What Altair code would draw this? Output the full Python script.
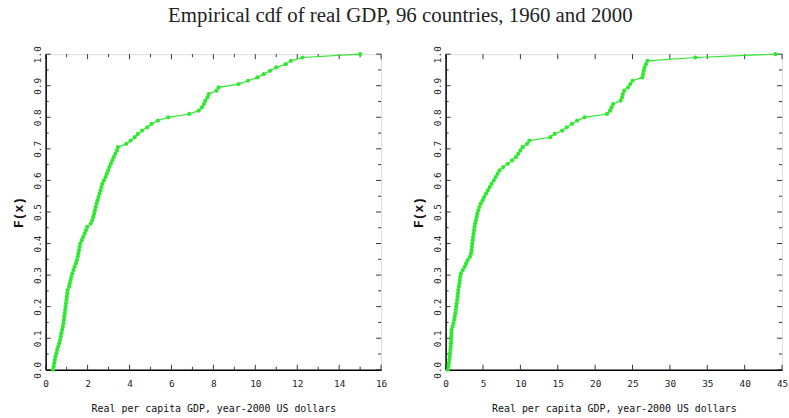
import altair as alt
import pandas as pd

# Real per capita GDP (thousands of year-2000 US dollars), 96 countries, sorted
gdp_1960 = [
    0.35, 0.38, 0.41, 0.44, 0.47, 0.51, 0.55, 0.60, 0.65, 0.69,
    0.72, 0.75, 0.79, 0.82, 0.85, 0.87, 0.89, 0.91, 0.93, 0.95,
    0.97, 0.99, 1.01, 1.03, 1.05, 1.12, 1.15, 1.19, 1.23, 1.27,
    1.33, 1.38, 1.44, 1.49, 1.53, 1.56, 1.59, 1.62, 1.65, 1.72,
    1.79, 1.86, 1.92, 1.98, 2.15, 2.22, 2.27, 2.31, 2.35, 2.39,
    2.43, 2.47, 2.52, 2.57, 2.62, 2.66, 2.70, 2.78, 2.86, 2.92,
    2.98, 3.04, 3.11, 3.18, 3.25, 3.32, 3.40, 3.45, 3.85, 4.05,
    4.25, 4.40, 4.60, 4.85, 5.05, 5.35, 5.85, 6.85, 7.30, 7.45,
    7.55, 7.62, 7.72, 7.78, 8.15, 8.25, 9.20, 9.65, 10.10, 10.40,
    10.70, 11.00, 11.45, 11.70, 12.25, 15.00,
]

gdp_2000 = [
    0.31, 0.38, 0.44, 0.50, 0.55, 0.59, 0.64, 0.68, 0.71, 0.74,
    0.76, 0.78, 0.80, 0.92, 1.05, 1.14, 1.22, 1.30, 1.36, 1.42,
    1.48, 1.54, 1.60, 1.65, 1.70, 1.77, 1.84, 1.90, 1.96, 2.05,
    2.30, 2.55, 2.75, 2.95, 3.25, 3.40, 3.48, 3.52, 3.56, 3.62,
    3.68, 3.74, 3.80, 3.86, 3.95, 4.05, 4.15, 4.25, 4.38, 4.52,
    4.70, 4.95, 5.15, 5.40, 5.65, 5.90, 6.15, 6.45, 6.70, 6.95,
    7.20, 7.70, 8.30, 8.90, 9.40, 9.70, 10.00, 10.30, 10.90, 11.20,
    14.00, 14.60, 15.60, 16.20, 16.90, 17.60, 18.60, 21.60, 22.00, 22.20,
    22.40, 23.40, 23.60, 23.70, 23.90, 24.40, 24.70, 25.00, 26.30, 26.40,
    26.50, 26.60, 26.80, 27.00, 33.40, 44.10,
]

# Axis layout
x_labels_1960 = [0, 2, 4, 6, 8, 10, 12, 14, 16]
x_minor_1960 = [1, 3, 5, 7, 9, 11, 13, 15]
x_labels_2000 = [0, 5, 10, 15, 20, 25, 30, 35, 40, 45]
x_minor_2000 = []
y_labels = [0.0, 0.1, 0.2, 0.3, 0.4, 0.5, 0.6, 0.7, 0.8, 0.9, 1.0]
y_minor = [0.05, 0.15, 0.25, 0.35, 0.45, 0.55, 0.65, 0.75, 0.85, 0.95]

TITLE = "Empirical cdf of real GDP, 96 countries, 1960 and 2000"
X_TITLE = "Real per capita GDP, year-2000 US dollars"
GREEN = "#2fe82f"
MONO = "DejaVu Sans Mono"
H = 318
MAJOR = 5
MINOR = 3


def panel(values, xmax, x_labels, x_minor, width):
    n = len(values)
    df = pd.DataFrame({"gdp": values})
    xs = alt.Scale(domain=[0, xmax], nice=False, zero=False)
    ys = alt.Scale(domain=[0, 1], nice=False)

    x_axis = alt.Axis(
        values=x_labels, ticks=False, grid=False, title=X_TITLE,
        labelFont=MONO, labelFontSize=9.5, labelColor="#222",
        labelPadding=9, titleFont=MONO, titleFontSize=10,
        titleFontWeight="normal", titleColor="#111", titlePadding=16,
        domainColor="black", domainWidth=1.5, labelFlush=False,
    )
    y_axis = alt.Axis(
        values=y_labels, format=".1f", ticks=False, grid=False,
        title="F(x)", labelFont=MONO, labelFontSize=9.5, labelColor="#222",
        labelAngle=270, labelAlign="center", labelBaseline="bottom",
        labelPadding=3, titleFont="Liberation Mono", titleFontSize=13,
        titleFontWeight="bold", titleColor="#111", titlePadding=7,
        domainColor="black", domainWidth=1.5, labelFlush=False,
    )

    def X(field):
        return alt.X(f"{field}:Q", scale=xs, axis=x_axis)

    def Y(field):
        return alt.Y(f"{field}:Q", scale=ys, axis=y_axis)

    base = alt.Chart(df).transform_window(
        rank="row_number()", sort=[alt.SortField("gdp")]
    ).transform_calculate(F=f"(datum.rank - 1) / {n - 1}")

    line = base.mark_line(color=GREEN, strokeWidth=1.2).encode(
        x=X("gdp"), y=Y("F"), order="gdp:Q"
    )
    dots = base.mark_circle(color=GREEN, size=18, opacity=1).encode(
        x=X("gdp"), y=Y("F")
    )

    # inward tick marks on all four sides, lengths converted to data units
    xt = pd.DataFrame(
        {"v": x_labels + x_minor,
         "len": [MAJOR] * len(x_labels) + [MINOR] * len(x_minor)}
    )
    yt = pd.DataFrame(
        {"v": y_labels + y_minor,
         "len": [MAJOR] * len(y_labels) + [MINOR] * len(y_minor)}
    )
    tick_style = dict(color="#333", strokeWidth=1)
    bottom = alt.Chart(xt).transform_calculate(
        a="0", b=f"datum.len / {H}"
    ).mark_rule(**tick_style).encode(x=X("v"), y=Y("a"), y2="b:Q")
    top = alt.Chart(xt).transform_calculate(
        a="1", b=f"1 - datum.len / {H}"
    ).mark_rule(**tick_style).encode(x=X("v"), y=Y("a"), y2="b:Q")
    left = alt.Chart(yt).transform_calculate(
        a="0", b=f"datum.len / {width} * {xmax}"
    ).mark_rule(**tick_style).encode(y=Y("v"), x=X("a"), x2="b:Q")
    right = alt.Chart(yt).transform_calculate(
        a=f"{xmax}", b=f"{xmax} - datum.len / {width} * {xmax}"
    ).mark_rule(**tick_style).encode(y=Y("v"), x=X("a"), x2="b:Q")

    return alt.layer(bottom, top, left, right, line, dots).properties(
        width=width, height=H
    )


left_panel = panel(gdp_1960, 16, x_labels_1960, x_minor_1960, 338)
right_panel = panel(gdp_2000, 45, x_labels_2000, x_minor_2000, 339)

chart = alt.hconcat(left_panel, right_panel, spacing=24).properties(
    title=alt.TitleParams(
        TITLE, font="Liberation Serif", fontSize=21, fontWeight="normal",
        color="#222", anchor="middle", offset=19,
    ),
    padding={"left": 12, "top": 3, "right": 0, "bottom": 0},
).configure_view(
    stroke="#555", strokeWidth=1
).configure(background="white")

chart.save("out.html", embed_options={"renderer": "svg", "actions": False})
